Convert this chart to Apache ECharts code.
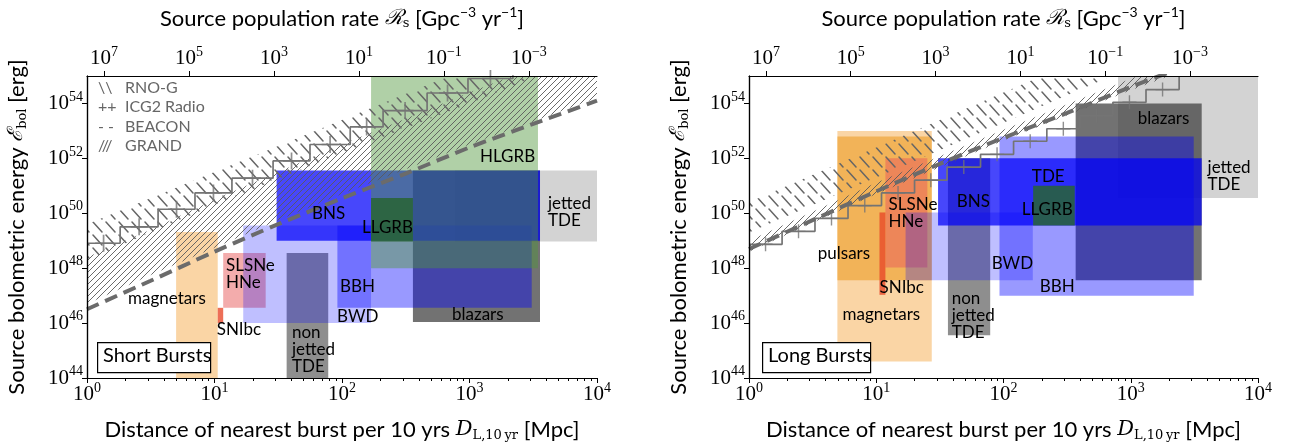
<!DOCTYPE html>
<html><head><meta charset="utf-8">
<script src="https://cdn.jsdelivr.net/npm/echarts@6/dist/echarts.min.js"></script>
<style>html,body{margin:0;padding:0;background:#fff}#c{width:1297px;height:447px}</style>
</head><body><div id="c"></div>
<script>
// ================= DATA =================
const distExtent = [1, 1e4];             // Mpc
const energyExtent = [1e44, 1e55];       // erg
const distTickExps = [0, 1, 2, 3, 4];
const energyTickExps = [44, 46, 48, 50, 52, 54];
const rateTickExps = [7, 5, 3, 1, -1, -3];
const rateAtOneMpc = 2.5e7;              // Gpc^-3 yr^-1 at D = 1 Mpc  (rate ∝ D^-3)

// boxes: [name, Dmin, Dmax, Emin, Emax]  (drawing order)
const shortBoxes = [
  ['magnetars',      5.0,  10.6, 1e44,    2.1e49],
  ['SLSNe/HNe',     11.7,  25.2, 3.6e46,  3.6e48],
  ['SNIbc',         10.6,  11.7, 1e46,    3.6e46],
  ['jetted TDE',     769,  1e4,  9.3e48,  3.6e51],
  ['blazars',        360,  3572, 1.1e46,  3.6e51],
  ['non-jetted TDE', 36.8, 78,   1e44,    3.6e48],
  ['BWD',           16.8,  169,  1e46,    3.6e49],
  ['BBH',             92,  3076, 3.6e46,  3.6e49],
  ['BNS',           30.7,  3573, 1e49,    3.6e51],
  ['HLGRB',          169,  3444, 1e48,    1e55],
  ['LLGRB',          169,  360,  9.3e48,  3.6e50]
];
const longBoxes = [
  ['magnetars',      4.95, 27.3, 4e44,    1e53],
  ['pulsars',        4.95, 27.3, 3.6e47,  6.3e52],
  ['SLSNe/HNe',     11.8,  25.2, 1.07e48, 1e52],
  ['SNIbc',         10.6,  11.8, 1.07e47, 1.07e50],
  ['jetted TDE',     794,  1e4,  3.6e50,  1e55],
  ['blazars',        369,  3610, 3.6e47,  1e54],
  ['non-jetted TDE', 36.6, 78.6, 3.6e45,  1e52],
  ['BWD',             17,  170,  3.6e47,  1.07e50],
  ['BBH',             93,  3126, 1e47,    6.3e52],
  ['BNS',           30.6,  3610, 3.6e49,  1e52],
  ['LLGRB',          171,  363,  3.6e49,  1e51]
];

// text labels: [text, D (left edge), E (middle)]
const shortLabels = [
  ['HLGRB', 1208, 1.2e52], ['jetted\nTDE', 4130, 1.07e50], ['BNS', 58.2, 1e50],
  ['LLGRB', 143.6, 3e49], ['SLSNe\nHNe', 12.3, 5.9e47], ['magnetars', 2.1, 7.8e46],
  ['SNIbc', 10.4, 5.7e45], ['BBH', 96.4, 2.1e47], ['BWD', 91.4, 1.8e46],
  ['non\njetted\nTDE', 40.5, 1.05e45], ['blazars', 729, 2.1e46]
];
const longLabels = [
  ['blazars', 1135, 2.8e53], ['jetted\nTDE', 4015, 2.3e51], ['TDE', 167, 2.2e51],
  ['LLGRB', 139, 1.4e50], ['BNS', 42.9, 2.6e50], ['SLSNe\nHNe', 12.5, 1.03e50],
  ['pulsars', 3.47, 3.3e48], ['BWD', 80.8, 1.45e48], ['SNIbc', 10.6, 1.9e47],
  ['BBH', 193, 2.1e47], ['magnetars', 5.43, 2.1e46], ['non\njetted\nTDE', 39.2, 1.9e46]
];

// ICG2 Radio staircase (level E[i] holds from D[i] to D[i+1])
const shortStairD = [1, 1.82, 3.61, 7.03, 13.7, 28.8, 56.1, 116, 210, 465, 973, 2190, 4000];
const shortStairE = [8.1e48, 3.2e49, 1.4e50, 5.5e50, 1.9e51, 8.1e51, 3.2e52, 1.4e53, 5.5e53, 2.4e54, 8.1e54, 3.5e55, 1e56];
const longStairD = [1, 1.82, 3.3, 6.0, 11, 20, 36, 66, 120, 219, 398, 724, 1318, 2400];
const longStairE = [7.4e48, 2.2e49, 6.5e49, 1.9e50, 5.5e50, 1.6e51, 4.8e51, 1.4e52, 4.2e52, 1.2e53, 3.6e53, 1.1e54, 3.2e54, 9.3e54];

// BEACON threshold (dashed)
const shortBeaconD = [1, 3.16, 10, 31.6, 100, 316, 1000, 3160, 10000];
const shortBeaconE = [3.2e46, 3.5e47, 4e48, 4e49, 3.5e50, 2.8e51, 2.5e52, 1.8e53, 1.26e54];
const longBeaconD = [1, 3.16, 10, 31.6, 100, 316, 1000, 2500];
const longBeaconE = [5e48, 5.6e49, 6.3e50, 6.3e51, 5.6e52, 4.5e53, 4e54, 2e55];

// GRAND band (///)
const shortGrandD = [1, 3.16, 10, 31.6, 100, 316, 1000, 3160, 10000];
const shortGrandLow = [5e46, 5.6e47, 5.6e48, 5.6e49, 5e50, 4e51, 3.2e52, 2.2e53, 1.6e54];
const shortGrandHigh = [2.5e48, 2.5e49, 3.2e50, 3.2e51, 3.2e52, 2.8e53, 2.5e54, 2e55, 1.6e56];
const longGrandD = [1, 10, 100, 1000, 3000];
const longGrandLow = [4e48, 5e50, 4.5e52, 3e54, 2e55];
const longGrandHigh = [1e49, 1.3e51, 1.1e53, 8e54, 5e55];

// RNO-G band (\\)
const shortRnoD = [1, 10, 100, 1000, 10000];
const shortRnoLow = [2e48, 2e50, 1.6e52, 1e54, 8e55];
const shortRnoHigh = [4e49, 3.2e51, 2.5e53, 2e55, 1e57];
const longRnoD = [1, 10, 100, 1000];
const longRnoLow = [2e49, 2e51, 2e53, 2e55];
const longRnoHigh = [2.5e50, 2.5e52, 2.5e54, 2.5e56];

const legendSymbols = ['\\\\', '++', '- -', '///'];
const legendNames = ['RNO-G', 'ICG2 Radio', 'BEACON', 'GRAND'];
const panelTitles = ['Short Bursts', 'Long Bursts'];

// ================= STYLE =================
const boxColors = {
  'magnetars': 'rgba(245,172,75,0.5)',
  'pulsars': 'rgba(238,158,40,0.62)',
  'SLSNe/HNe': 'rgba(232,90,90,0.5)',
  'SNIbc': 'rgba(232,70,40,0.78)',
  'jetted TDE': 'rgba(128,128,128,0.35)',
  'blazars': 'rgba(60,60,60,0.72)',
  'non-jetted TDE': 'rgba(60,60,60,0.58)',
  'BWD': 'rgba(0,0,255,0.25)',
  'BBH': 'rgba(0,0,255,0.4)',
  'BNS': 'rgba(0,0,250,0.72)',
  'HLGRB': 'rgba(80,150,60,0.45)',
  'LLGRB': 'rgba(40,100,50,0.85)'
};
const L = Math.log10;
const SANS = 'Lato';
const SERIF = 'Liberation Serif';

function makePattern(size, draw) {
  const c = document.createElement('canvas');
  c.width = c.height = size;
  const g = c.getContext('2d');
  draw(g, size);
  return c;
}
const grandPattern = makePattern(6, (g, s) => {
  g.strokeStyle = '#5a5a5a'; g.lineWidth = 0.9; g.beginPath();
  g.moveTo(0, s); g.lineTo(s, 0);
  g.moveTo(-1, 1); g.lineTo(1, -1);
  g.moveTo(s - 1, s + 1); g.lineTo(s + 1, s - 1);
  g.stroke();
});
const rnoPattern = makePattern(13, (g, s) => {
  g.strokeStyle = '#666'; g.lineWidth = 1.5; g.lineCap = 'round'; g.beginPath();
  g.moveTo(2, 1); g.lineTo(11, 11); g.stroke();
});

const supFmt = e => '{b|10}{s|' + String(e).replace('-', '\u2212') + '}';
const tickRich = {
  b: { fontFamily: SERIF, fontSize: 21, color: '#000' },
  s: { fontFamily: SERIF, fontSize: 14, color: '#000', padding: [0, 0, 13, 0] }
};
const titleRich = {
  t: { fontFamily: SANS, fontSize: 22, color: '#000' },
  m: { fontFamily: 'DejaVu Serif', fontStyle: 'italic', fontSize: 21, color: '#000' },
  sub: { fontFamily: 'DejaVu Serif', fontSize: 13, color: '#000', padding: [11, 0, 0, 0] },
  sup: { fontFamily: SANS, fontSize: 14, color: '#000', padding: [0, 0, 13, 0] }
};

const minorVals = [];
for (let d = 0; d < 4; d++) for (let k = 2; k <= 9; k++) minorVals.push(d + L(k));

const grids = [
  { left: 87, top: 69, width: 510, height: 312 },
  { left: 749, top: 69, width: 509, height: 312 }
];
const xAxes = [], yAxes = [], series = [];
const lineCol = '#000';

[0, 1].forEach(p => {
  xAxes.push({
    type: 'value', gridIndex: p, position: 'bottom', min: L(distExtent[0]), max: L(distExtent[1]), z: 10,
    axisLine: { show: true, lineStyle: { color: lineCol, width: 1.2 } },
    axisTick: { show: true, length: 5, customValues: distTickExps, lineStyle: { color: lineCol } },
    splitLine: { show: false },
    axisLabel: { customValues: distTickExps, formatter: v => supFmt(Math.round(v)), rich: tickRich, margin: 3 },
    name: '{t|Distance of nearest burst per 10 yrs }{m|D}{sub|L,10\u2009yr}{t| [Mpc]}',
    nameLocation: 'middle', nameGap: 40, nameTextStyle: { rich: titleRich }
  });
  xAxes.push({
    type: 'value', gridIndex: p, position: 'bottom', min: L(distExtent[0]), max: L(distExtent[1]), z: 10,
    axisLine: { show: false }, splitLine: { show: false }, axisLabel: { show: false },
    axisTick: { show: true, length: 3, customValues: minorVals, lineStyle: { color: lineCol } }
  });
  const rMax = L(rateAtOneMpc) - 3 * L(distExtent[0]);
  const rMin = L(rateAtOneMpc) - 3 * L(distExtent[1]);
  xAxes.push({
    type: 'value', gridIndex: p, position: 'top', inverse: true, min: rMin, max: rMax, z: 10,
    axisLine: { show: true, lineStyle: { color: lineCol, width: 1.2 } },
    axisTick: { show: true, length: 5, customValues: rateTickExps, lineStyle: { color: lineCol } },
    splitLine: { show: false },
    axisLabel: { customValues: rateTickExps, formatter: v => supFmt(Math.round(v)), rich: tickRich, margin: 4 },
    name: '{t|Source population rate }{m|\u211B}{sub|s}{t| [Gpc}{sup|\u22123}{t| yr}{sup|\u22121}{t|]}',
    nameLocation: 'middle', nameGap: 44, nameTextStyle: { rich: titleRich }
  });
  yAxes.push({
    type: 'value', gridIndex: p, position: 'left', min: L(energyExtent[0]), max: L(energyExtent[1]), z: 10,
    axisLine: { show: true, lineStyle: { color: lineCol, width: 1.2 } },
    axisTick: { show: true, length: 5, customValues: energyTickExps, lineStyle: { color: lineCol } },
    splitLine: { show: false },
    axisLabel: { customValues: energyTickExps, formatter: v => supFmt(Math.round(v)), rich: tickRich, margin: 4 },
    name: '{t|Source bolometric energy }{m|\u2130}{sub|bol}{t| [erg]}',
    nameLocation: 'middle', nameGap: 58, nameTextStyle: { rich: titleRich }
  });
  yAxes.push({
    type: 'value', gridIndex: p, position: 'right', min: L(energyExtent[0]), max: L(energyExtent[1]), z: 10,
    axisLine: { show: true, lineStyle: { color: lineCol, width: 1.2 } },
    axisTick: { show: false }, axisLabel: { show: false }, splitLine: { show: false }
  });

  const xi = 3 * p, yi = 2 * p;
  const boxes = p === 0 ? shortBoxes : longBoxes;
  const labels = p === 0 ? shortLabels : longLabels;

  // boxes
  series.push({
    type: 'custom', xAxisIndex: xi, yAxisIndex: yi, z: 2, silent: true,
    data: boxes.map((b, i) => [L(b[1]), L(b[2]), L(b[3]), L(b[4]), i]),
    renderItem: (params, api) => {
      const cs = params.coordSys;
      const a = api.coord([api.value(0), api.value(3)]);
      const b = api.coord([api.value(1), api.value(2)]);
      const r = echarts.graphic.clipRectByRect(
        { x: a[0], y: a[1], width: b[0] - a[0], height: b[1] - a[1] },
        { x: cs.x, y: cs.y, width: cs.width, height: cs.height });
      if (!r) return null;
      return { type: 'rect', shape: r, style: { fill: boxColors[boxes[api.value(4)][0]] } };
    }
  });

  // hatched bands
  const band = (D, lo, hi, pat) => ({
    type: 'custom', xAxisIndex: xi, yAxisIndex: yi, z: 3, silent: true, clip: true,
    data: [[0, 50]],
    renderItem: (params, api) => {
      const cs = params.coordSys;
      const pts = [];
      D.forEach((d, i) => pts.push(api.coord([L(d), L(lo[i])])));
      for (let i = D.length - 1; i >= 0; i--) pts.push(api.coord([L(D[i]), L(hi[i])]));
      return {
        type: 'group',
        clipPath: { type: 'rect', shape: { x: cs.x, y: cs.y, width: cs.width, height: cs.height } },
        children: [{ type: 'polygon', shape: { points: pts }, style: { fill: { image: pat, repeat: 'repeat' }, stroke: null } }]
      };
    }
  });
  if (p === 0) {
    series.push(band(shortGrandD, shortGrandLow, shortGrandHigh, grandPattern));
    series.push(band(shortRnoD, shortRnoLow, shortRnoHigh, rnoPattern));
  } else {
    series.push(band(longGrandD, longGrandLow, longGrandHigh, grandPattern));
    series.push(band(longRnoD, longRnoLow, longRnoHigh, rnoPattern));
  }

  // staircase
  const sD = p === 0 ? shortStairD : longStairD, sE = p === 0 ? shortStairE : longStairE;
  series.push({
    type: 'line', xAxisIndex: xi, yAxisIndex: yi, z: 4, silent: true, step: 'end', showSymbol: false,
    data: sD.map((d, i) => [L(d), L(sE[i])]),
    lineStyle: { color: '#747474', width: 1.7 }
  });
  const crosses = [];
  for (let i = 0; i < sD.length - 1; i++) crosses.push([(L(sD[i]) + L(sD[i + 1])) / 2, L(sE[i])]);
  series.push({
    type: 'scatter', xAxisIndex: xi, yAxisIndex: yi, z: 4, silent: true,
    symbol: 'path://M-0.1,-1H0.1V1H-0.1Z M-1,-0.1H1V0.1H-1Z', symbolSize: p === 0 ? 17 : 14,
    itemStyle: { color: '#747474' }, data: crosses
  });

  // BEACON dashed
  const bD = p === 0 ? shortBeaconD : longBeaconD, bE = p === 0 ? shortBeaconE : longBeaconE;
  series.push({
    type: 'line', xAxisIndex: xi, yAxisIndex: yi, z: 4, silent: true, showSymbol: false, smooth: 0.3,
    data: bD.map((d, i) => [L(d), L(bE[i])]),
    lineStyle: { color: '#6b6b6b', width: 4, type: [13, 7] }
  });

  // labels
  series.push({
    type: 'custom', xAxisIndex: xi, yAxisIndex: yi, z: 6, silent: true,
    data: labels.map((l, i) => [L(l[1]), L(l[2]), i]),
    renderItem: (params, api) => {
      const pt = api.coord([api.value(0), api.value(1)]);
      return {
        type: 'text', x: pt[0], y: pt[1],
        style: { text: labels[api.value(2)][0], fill: '#000', fontFamily: SANS, fontSize: 17, lineHeight: 17, align: 'left', verticalAlign: 'middle' }
      };
    }
  });
});

// legend (short panel) and panel titles
const graphics = [];
legendSymbols.forEach((s, i) => {
  graphics.push({ type: 'text', left: 98, top: 80 + i * 19.3, z: 100, style: { text: s, fill: '#666', fontFamily: SANS, fontSize: 16 } });
  graphics.push({ type: 'text', left: 125, top: 80 + i * 19.3, z: 100, style: { text: legendNames[i], fill: '#666', fontFamily: SANS, fontSize: 16 } });
});
[[97, 113], [762, 108]].forEach((b, i) => {
  graphics.push({
    type: 'rect', left: b[0], top: 342, z: 100,
    shape: { x: 0, y: 0, width: b[1], height: 30 },
    style: { fill: '#fff', stroke: '#000', lineWidth: 1.2 }
  });
  graphics.push({
    type: 'text', left: b[0] + 6, top: 346, z: 101,
    style: { text: panelTitles[i], fill: '#000', fontFamily: SANS, fontSize: 20 }
  });
});

const chart = echarts.init(document.getElementById('c'), null, { renderer: 'canvas' });
chart.setOption({
  animation: false,
  backgroundColor: '#fff',
  grid: grids,
  xAxis: xAxes,
  yAxis: yAxes,
  series: series,
  graphic: { elements: graphics }
});
</script></body></html>
